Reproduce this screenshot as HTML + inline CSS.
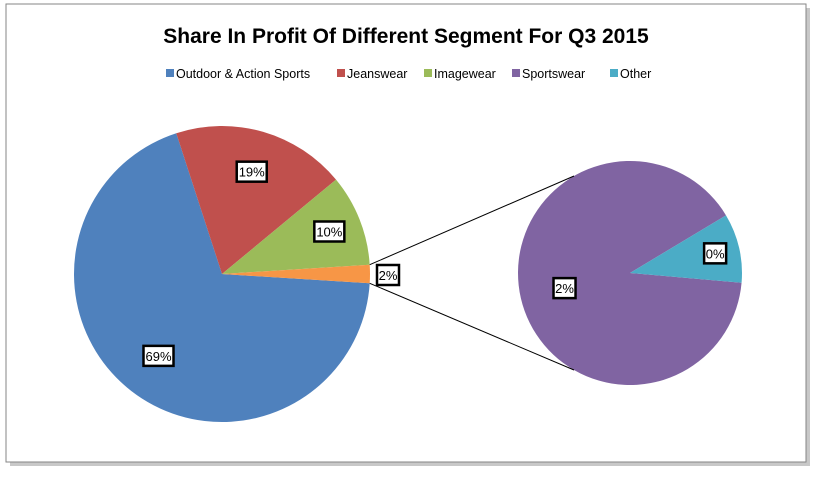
<!DOCTYPE html>
<html><head><meta charset="utf-8"><style>
body{margin:0;background:#fff;width:820px;height:477px;overflow:hidden;font-family:"Liberation Sans",sans-serif}
</style></head><body>
<svg width="820" height="477">
<rect x="10" y="8" width="800" height="458" fill="#c8c8c8"/>
<rect x="6" y="4" width="800" height="458" fill="#fff" stroke="#868686"/>
<text x="406" y="43" text-anchor="middle" font-size="21" font-weight="bold" fill="#000">Share In Profit Of Different Segment For Q3 2015</text>
<g id="legend" font-size="12.5" fill="#000"></g>
<g id="main"></g><g id="sec"></g><g id="lines"></g><g id="labels"></g>
</svg>
<script>
const categories=["Outdoor & Action Sports","Jeanswear","Imagewear","Sportswear","Other"];
const colors=["#4f81bd","#c0504d","#9bbb59","#8064a2","#4bacc6"];
const mainValues=[69,19,10];
const otherValue=2;
const secValues=[1.8,0.2];
const mainLabels=["69%","19%","10%","2%"];
const secLabels=["2%","0%"];
const NS="http://www.w3.org/2000/svg";
function mk(t,a,p){const e=document.createElementNS(NS,t);for(const k in a)e.setAttribute(k,a[k]);p.appendChild(e);return e;}
// legend
const lg=document.getElementById('legend');
const lx=[166,337,424,512,610];
categories.forEach((c,i)=>{
 const r=mk('rect',{x:lx[i],y:69,width:8,height:8,fill:colors[i]},lg);
 
 
 const t=mk('text',{x:lx[i]+10,y:78},lg);t.textContent=c;
 
 
});
function pt(cx,cy,r,deg){const a=deg*Math.PI/180;return [cx+r*Math.sin(a),cy-r*Math.cos(a)];}
function slice(g,cx,cy,r,a0,a1,fill,name){
 const p0=pt(cx,cy,r,a0),p1=pt(cx,cy,r,a1);
 const e=mk('path',{d:`M${cx},${cy}L${p0[0]},${p0[1]}A${r},${r} 0 ${a1-a0>180?1:0} 1 ${p1[0]},${p1[1]}Z`,fill:fill},g);
 
 
}
function label(x,y,txt,name){
 const L=document.getElementById('labels');
 const w=txt.length*8+6;
 const r=mk('rect',{x:x-w/2,y:y-10,width:w,height:20,fill:'#fff',stroke:'#000','stroke-width':2.5},L);
 
 
 const t=mk('text',{x:x,y:y+5,'text-anchor':'middle','font-size':13},L);t.textContent=txt;
 
 
}
// main pie: values 69,19,10, other group; starts at red
const total=mainValues.reduce((a,b)=>a+b,0)+otherValue;
const mcx=222,mcy=274,mr=148;
const oDeg=otherValue/total*360;
const otherStart=90-oDeg/2;
const mg=document.getElementById('main');
let a=otherStart+oDeg;
// blue
const seq=[[0,mainValues[0]]];
let ang=a;
const order=[0,1,2];
const mids=[];
order.forEach(i=>{const d=mainValues[i]/total*360;slice(mg,mcx,mcy,mr,ang,ang+d,colors[i],'slice-'+i);mids[i]=ang+d/2;ang+=d;});
slice(mg,mcx,mcy,mr,otherStart,otherStart+oDeg,'#f79646','slice-other-group');
const lp=[[0.7,mids[0]],[0.72,mids[1]],[0.78,mids[2]]];
lp.forEach((q,i)=>{const p=pt(mcx,mcy,mr*q[0],q[1]);label(p[0],p[1],mainLabels[i],'data-label-'+i);});
label(388,275,mainLabels[3],'data-label-other');
// secondary pie
const scx=630,scy=273,sr=112;
const sg=document.getElementById('sec');
const st=secValues[0]+secValues[1];
const d1=secValues[1]/st*360;
const s0=95-d1;
slice(sg,scx,scy,sr,95,s0+360,colors[3],'slice-sportswear');
slice(sg,scx,scy,sr,s0,95,colors[4],'slice-other');
let p=pt(scx,scy,sr*0.6,(95+s0+360)/2);label(p[0],p[1],secLabels[0],'data-label-sportswear');
p=pt(scx,scy,sr*0.78,s0+d1/2);label(p[0],p[1],secLabels[1],'data-label-other-detail');
// connector lines
const L=document.getElementById('lines');
const a1=pt(mcx,mcy,mr,otherStart),a2=pt(mcx,mcy,mr,otherStart+oDeg);
const b1=pt(scx,scy,sr,-30),b2=pt(scx,scy,sr,210);
let l=mk('line',{x1:a1[0],y1:a1[1],x2:b1[0],y2:b1[1],stroke:'#000','stroke-width':1},L);


l=mk('line',{x1:a2[0],y1:a2[1],x2:b2[0],y2:b2[1],stroke:'#000','stroke-width':1},L);


</script>
</body></html>
